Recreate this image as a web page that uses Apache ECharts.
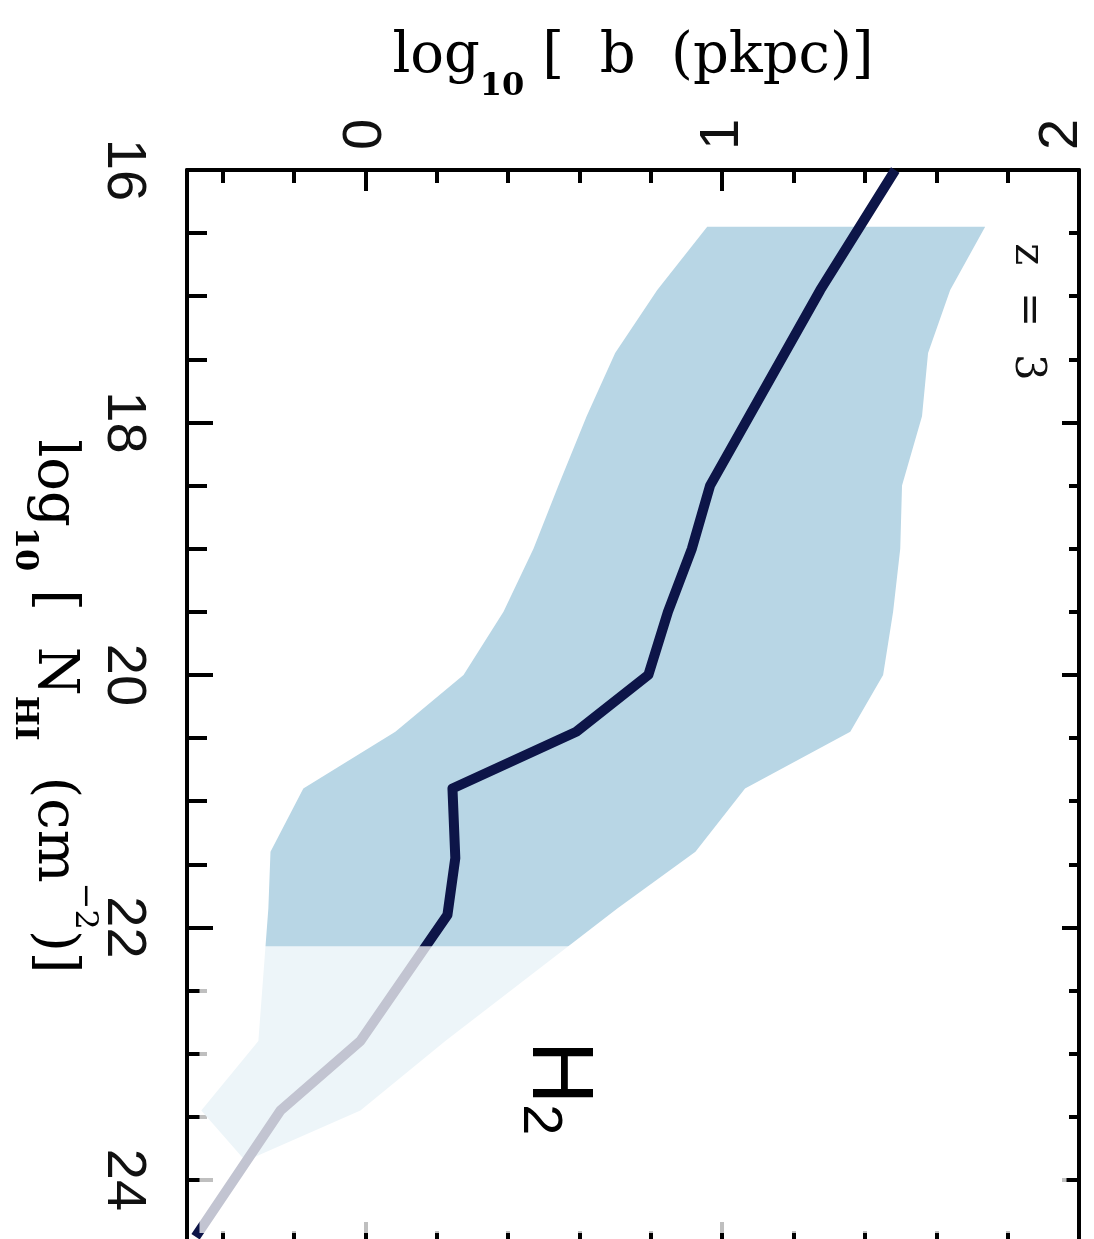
<!DOCTYPE html>
<html>
<head>
<meta charset="utf-8">
<script src="https://cdn.jsdelivr.net/npm/echarts@6/dist/echarts.min.js"></script>
<style>
  html, body { margin: 0; padding: 0; background: #fff; overflow: hidden; }
  #chart { width: 1094px; height: 1239px; }
</style>
</head>
<body>
<div id="chart"></div>
<script>
// Median impact parameter b versus HI column density at z = 3,
// with the scatter envelope around it. Columns beyond the H2 onset are faded.

// median curve
const nhiMedian  = [16.0, 16.95, 18.5, 19.0, 19.5, 20.0, 20.45, 20.9, 21.45, 21.9, 22.9, 23.45, 24.45];
const logbMedian = [1.485, 1.275, 0.966, 0.915, 0.848, 0.793, 0.591, 0.244, 0.252, 0.230, -0.014, -0.238, -0.476];

// envelope (lower / upper edge)
const nhiBand  = [16.45, 16.95, 17.45, 17.95, 18.5, 19.0, 19.5, 20.0, 20.45, 20.9, 21.4, 21.85, 22.9, 23.45, 23.85];
const logbLow  = [0.958, 0.818, 0.700, 0.620, 0.541, 0.471, 0.387, 0.275, 0.084, -0.174, -0.266, -0.272, -0.300, -0.460, -0.336];
const logbHigh = [1.737, 1.639, 1.577, 1.560, 1.504, 1.499, 1.479, 1.451, 1.359, 1.064, 0.925, 0.706, 0.224, -0.014, -0.336];

// column density where H2 takes over (faded region starts here)
const nhiH2Onset = 22.15;

// axis ticks and labels
const logbMajorTicks = [0, 1, 2];
const logbMinorTicks = [-0.4, -0.2, 0.2, 0.4, 0.6, 0.8, 1.2, 1.4, 1.6, 1.8];
const logbTickLabels = ['0', '1', '2'];
const nhiMajorTicks  = [16, 18, 20, 22, 24];
const nhiMinorTicks  = [16.5, 17, 17.5, 18.5, 19, 19.5, 20.5, 21, 21.5, 22.5, 23, 23.5, 24.5];
const nhiTickLabels  = ['16', '18', '20', '22', '24'];

const LOGB_MIN = -0.5, LOGB_MAX = 2;
const NHI_MIN = 16, NHI_MAX = 24.5;

const INK = '#000';
const tickFont = 'Liberation Sans';
const titleFont = 'DejaVu Serif';

const titleRich = {
  m: { fontFamily: titleFont, fontSize: 56, lineHeight: 60, color: INK },
  s: { fontFamily: titleFont, fontSize: 32, fontWeight: 'bold', lineHeight: 32, padding: [60, 0, 0, 0], color: INK },
  p: { fontFamily: titleFont, fontSize: 32, lineHeight: 32, padding: [0, 0, 60, 0], color: INK }
};

function tickAxis(kind, position, ticks, len, extra) {
  const isX = kind === 'x';
  return Object.assign({
    type: 'value',
    position: position,
    min: isX ? LOGB_MIN : NHI_MIN,
    max: isX ? LOGB_MAX : NHI_MAX,
    inverse: !isX,
    axisLine: { show: false, onZero: false },
    splitLine: { show: false },
    axisTick: {
      show: true, inside: true, length: len, customValues: ticks,
      lineStyle: { color: INK, width: 4 }
    },
    axisLabel: { show: false, customValues: ticks }
  }, extra || {});
}

const frameLine = { show: true, onZero: false, lineStyle: { color: INK, width: 4 } };

const xAxes = [
  tickAxis('x', 'top', logbMajorTicks, 21, {
    axisLine: frameLine,
    axisLabel: {
      show: true,
      customValues: logbMajorTicks,
      rotate: -90,
      margin: 20,
      formatter: function (v) {
        const i = logbMajorTicks.indexOf(v);
        const txt = i >= 0 ? logbTickLabels[i] : String(v);
        return (v === LOGB_MAX ? '{e|' : '{n|') + txt + '}';
      },
      rich: {
        n: { fontFamily: tickFont, fontSize: 56, color: '#111' },
        e: { fontFamily: tickFont, fontSize: 56, color: '#111', padding: [0, 0, 34, 0] }
      }
    },
    name: '{m|log}{s|10}{m| [  b  (pkpc)]}',
    nameLocation: 'middle',
    nameGap: 83,
    nameMoveOverlap: false,
    nameTextStyle: { rich: titleRich }
  }),
  tickAxis('x', 'top', logbMinorTicks, 13),
  tickAxis('x', 'bottom', logbMajorTicks, 21, { axisLine: frameLine }),
  tickAxis('x', 'bottom', logbMinorTicks, 12)
];

const yAxes = [
  tickAxis('y', 'left', nhiMajorTicks, 26, {
    axisLine: frameLine,
    axisLabel: {
      show: true,
      customValues: nhiMajorTicks,
      rotate: -90,
      margin: 36,
      fontFamily: tickFont,
      fontSize: 56,
      color: '#111',
      formatter: function (v) {
        const i = nhiMajorTicks.indexOf(v);
        return i >= 0 ? nhiTickLabels[i] : String(v);
      }
    },
    name: '{m|log}{s|10}{m| [  N}{s|HI}{m|  (cm}{p|−2}{m|)]}',
    nameLocation: 'middle',
    nameRotate: -90,
    nameGap: 103,
    nameMoveOverlap: false,
    nameTextStyle: { rich: titleRich }
  }),
  tickAxis('y', 'left', nhiMinorTicks, 20),
  tickAxis('y', 'right', nhiMajorTicks, 17, { axisLine: frameLine }),
  tickAxis('y', 'right', nhiMinorTicks, 10)
];

const chart = echarts.init(document.getElementById('chart'), null, { renderer: 'canvas' });

chart.setOption({
  animation: false,
  backgroundColor: '#fff',
  grid: { left: 187, top: 170, width: 892, height: 1073, outerBoundsMode: 'none', containLabel: false },
  xAxis: xAxes,
  yAxis: yAxes,
  series: [
    {
      // scatter envelope
      type: 'custom',
      xAxisIndex: 0, yAxisIndex: 0,
      z: 2, silent: true, clip: true,
      data: [[logbLow[0], nhiBand[0]]],
      renderItem: function (params, api) {
        const pts = [];
        for (let i = 0; i < nhiBand.length; i++) pts.push(api.coord([logbLow[i], nhiBand[i]]));
        for (let i = nhiBand.length - 1; i >= 0; i--) pts.push(api.coord([logbHigh[i], nhiBand[i]]));
        return { type: 'polygon', shape: { points: pts }, style: { fill: '#b8d6e5' } };
      }
    },
    {
      // median b
      type: 'line',
      xAxisIndex: 0, yAxisIndex: 0,
      z: 5, clip: true,
      showSymbol: false, symbol: 'none',
      data: nhiMedian.map(function (n, i) { return [logbMedian[i], n]; }),
      lineStyle: { color: '#0d1548', width: 10, join: 'round', cap: 'butt' }
    },
    {
      // veil over the H2-dominated columns
      type: 'custom',
      xAxisIndex: 0, yAxisIndex: 0,
      z: 20, silent: true, clip: false,
      data: [[LOGB_MIN, nhiH2Onset]],
      renderItem: function (params, api) {
        const a = api.coord([-0.465, nhiH2Onset]);
        const b = api.coord([1.965, 24.42]);
        return {
          type: 'rect',
          shape: { x: a[0], y: a[1], width: b[0] - a[0], height: b[1] - a[1] },
          style: { fill: 'rgba(255,255,255,0.75)' }
        };
      }
    }
  ],
  graphic: [
    {
      type: 'text', x: 1027, y: 312, rotation: -Math.PI / 2, z: 100,
      style: {
        text: 'z  =  3', fontFamily: titleFont, fontSize: 42, fill: '#111',
        align: 'center', verticalAlign: 'middle'
      }
    },
    {
      type: 'text', x: 557, y: 1088, rotation: -Math.PI / 2, z: 100,
      style: {
        text: '{h|H}{s|2}',
        align: 'center', verticalAlign: 'middle',
        rich: {
          h: { fontFamily: tickFont, fontSize: 88, lineHeight: 88, fill: '#000' },
          s: { fontFamily: tickFont, fontSize: 56, lineHeight: 56, padding: [36, 0, 0, 0], fill: '#000' }
        }
      }
    }
  ]
});
</script>
</body>
</html>
